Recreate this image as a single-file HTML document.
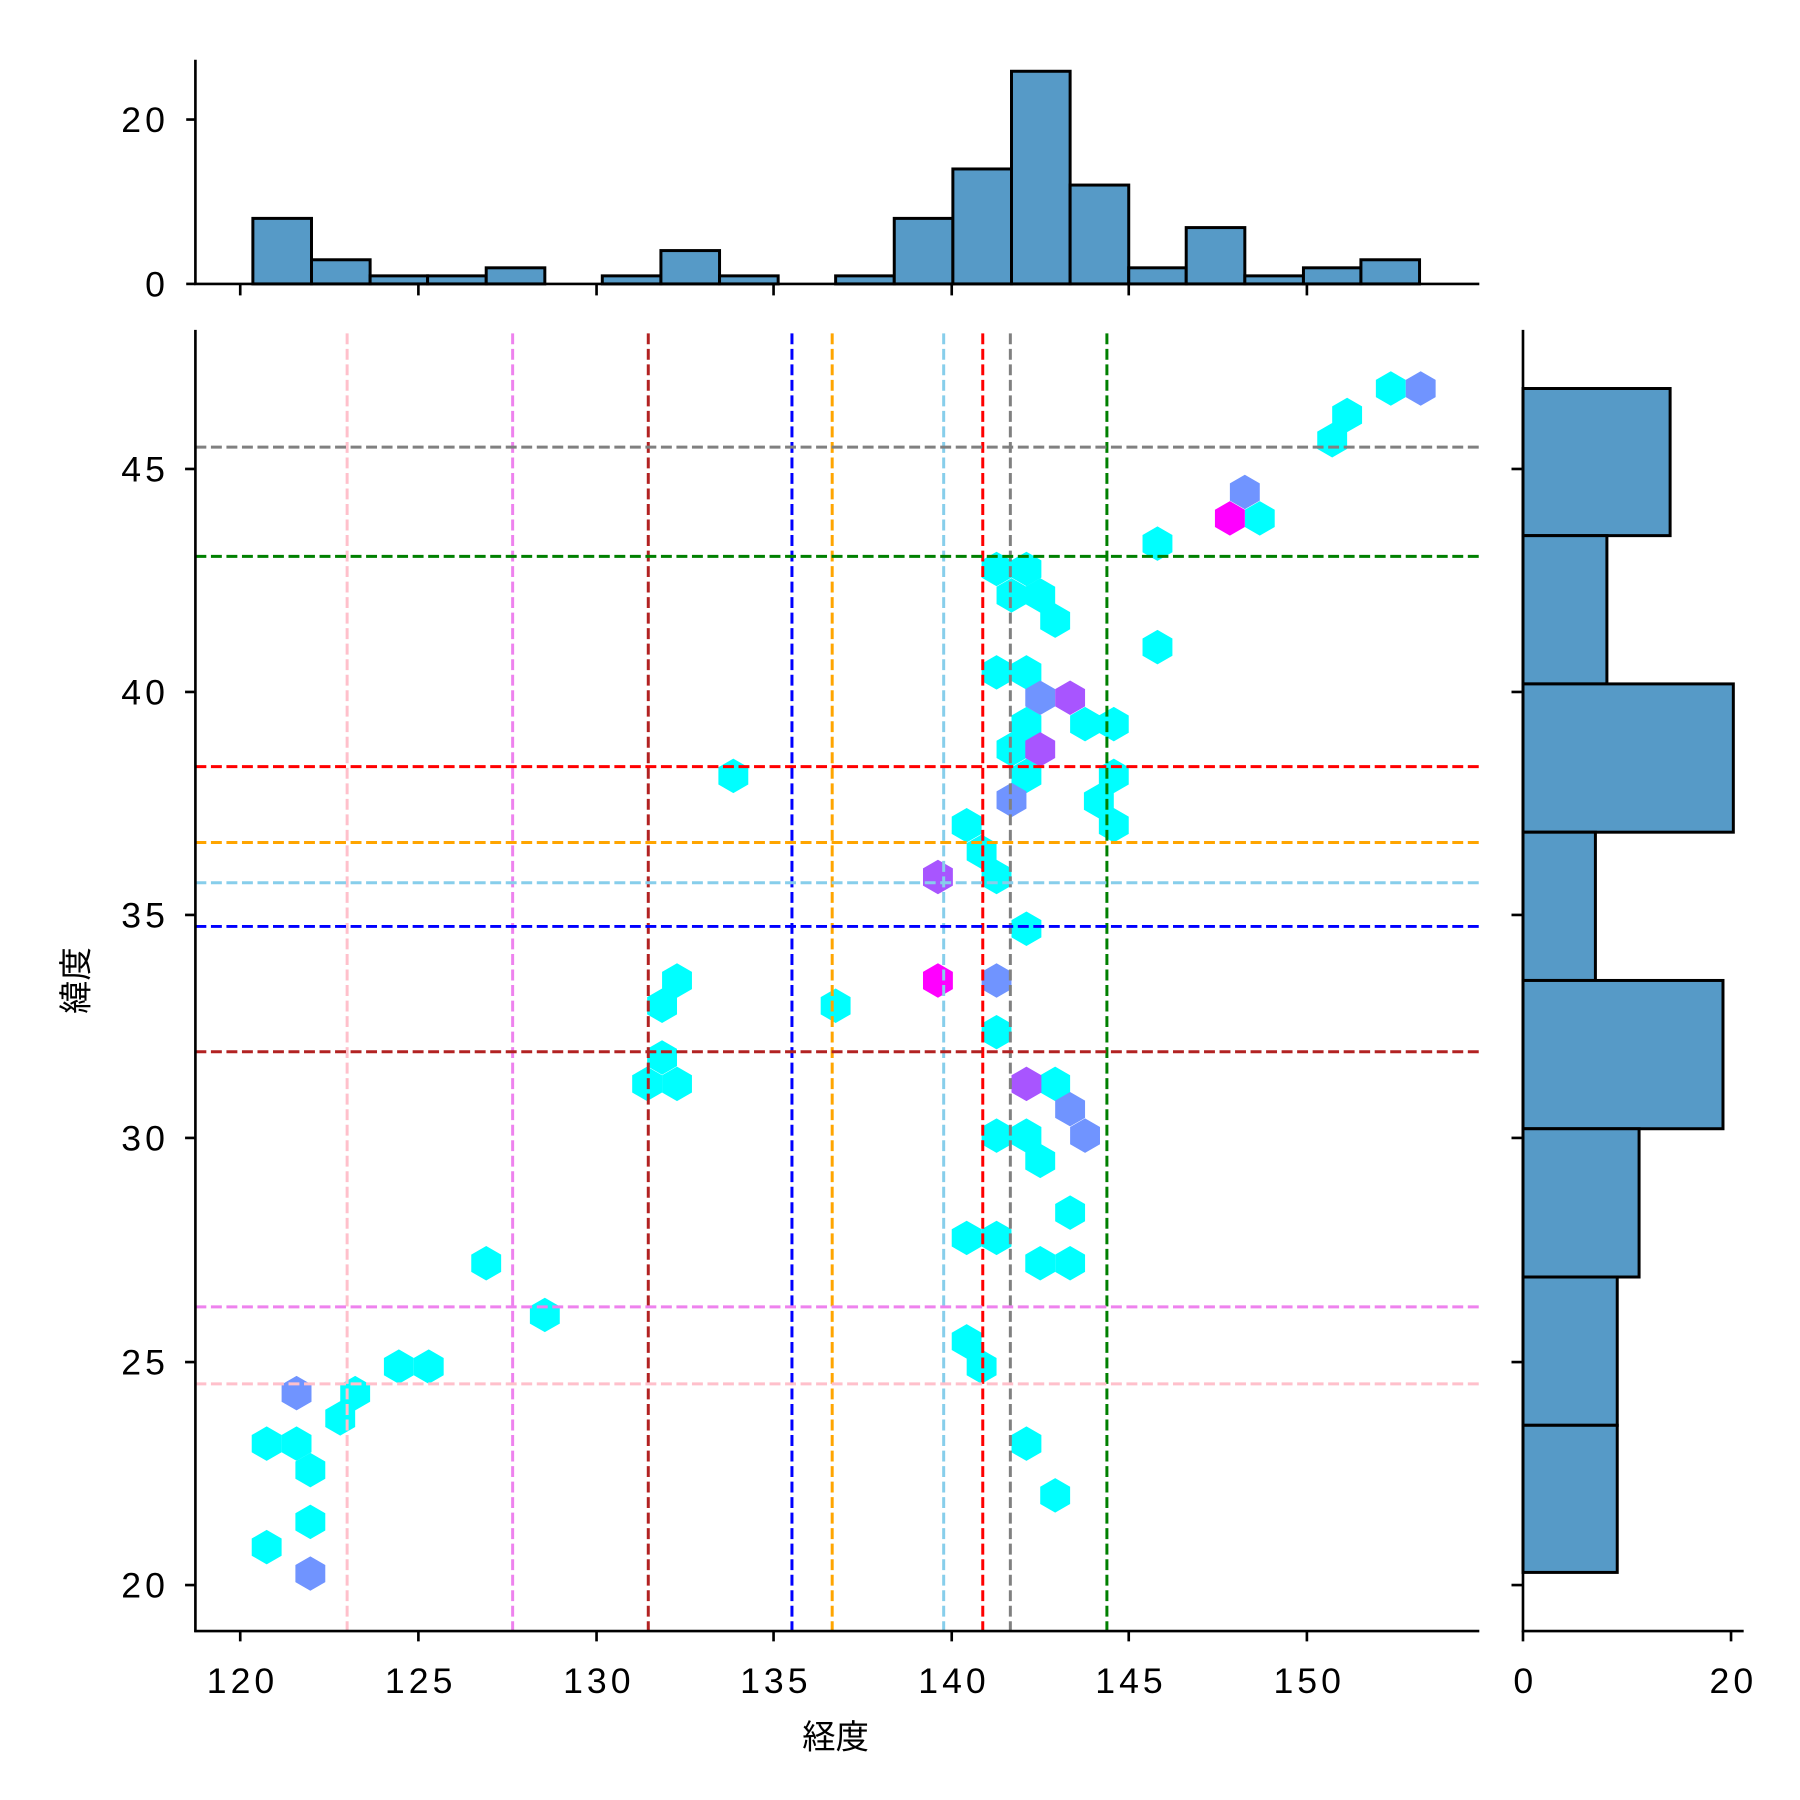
<!DOCTYPE html>
<html><head><meta charset="utf-8"><style>
html,body{margin:0;padding:0;background:#fff}
svg{display:block}
text{font-family:"Liberation Sans","Noto Sans CJK JP",sans-serif;fill:#000}
.n{letter-spacing:3.5px}
.j{font-family:"Noto Sans CJK JP",sans-serif}
</style></head><body>
<svg width="1800" height="1800" viewBox="0 0 1566 1566" xmlns="http://www.w3.org/2000/svg">
<defs><polygon id="h" points="0,-15 13,-7.5 13,7.5 0,15 -13,7.5 -13,-7.5"/></defs>
<rect width="1566" height="1566" fill="#fff"/>
<!-- top histogram -->
<g fill="#569ac7" stroke="#000" stroke-width="2.6">
<rect x="220" y="190" width="51" height="57"/>
<rect x="271" y="226" width="51" height="21"/>
<rect x="322" y="240" width="50" height="7"/>
<rect x="372" y="240" width="51" height="7"/>
<rect x="423" y="233" width="51" height="14"/>
<rect x="524" y="240" width="51" height="7"/>
<rect x="575" y="218" width="51" height="29"/>
<rect x="626" y="240" width="51" height="7"/>
<rect x="727" y="240" width="51" height="7"/>
<rect x="778" y="190" width="51" height="57"/>
<rect x="829" y="147" width="51" height="100"/>
<rect x="880" y="62" width="51" height="185"/>
<rect x="931" y="161" width="51" height="86"/>
<rect x="982" y="233" width="50" height="14"/>
<rect x="1032" y="198" width="51" height="49"/>
<rect x="1083" y="240" width="51" height="7"/>
<rect x="1134" y="233" width="50" height="14"/>
<rect x="1184" y="226" width="51" height="21"/>
</g>
<g stroke="#000" stroke-width="2.3" fill="none">
<line x1="170" y1="52" x2="170" y2="247"/>
<line x1="169" y1="247" x2="1287" y2="247"/>
<line x1="162" y1="104" x2="170" y2="104"/>
<line x1="162" y1="247" x2="170" y2="247"/>
<line x1="209" y1="247" x2="209" y2="257"/><line x1="364" y1="247" x2="364" y2="257"/><line x1="519" y1="247" x2="519" y2="257"/><line x1="673" y1="247" x2="673" y2="257"/><line x1="828" y1="247" x2="828" y2="257"/><line x1="982" y1="247" x2="982" y2="257"/><line x1="1137" y1="247" x2="1137" y2="257"/>
</g>
<g font-size="31" text-anchor="end" class="n">
<text x="147" y="115">20</text><text x="147" y="258">0</text>
</g>
<!-- right histogram -->
<g fill="#569ac7" stroke="#000" stroke-width="2.6">
<rect x="1325" y="338" width="128" height="128"/>
<rect x="1325" y="466" width="73" height="129"/>
<rect x="1325" y="595" width="183" height="129"/>
<rect x="1325" y="724" width="63" height="129"/>
<rect x="1325" y="853" width="174" height="129"/>
<rect x="1325" y="982" width="101" height="129"/>
<rect x="1325" y="1111" width="82" height="129"/>
<rect x="1325" y="1240" width="82" height="128"/>
</g>
<g stroke="#000" stroke-width="2.3" fill="none">
<line x1="1325" y1="287" x2="1325" y2="1420"/>
<line x1="1324" y1="1419" x2="1517" y2="1419"/>
<line x1="1325" y1="1419" x2="1325" y2="1428"/><line x1="1506" y1="1419" x2="1506" y2="1428"/>
<line x1="1315" y1="1379" x2="1325" y2="1379"/><line x1="1315" y1="1185" x2="1325" y2="1185"/><line x1="1315" y1="990" x2="1325" y2="990"/><line x1="1315" y1="796" x2="1325" y2="796"/><line x1="1315" y1="602" x2="1325" y2="602"/><line x1="1315" y1="408" x2="1325" y2="408"/>
</g>
<g font-size="31" text-anchor="middle" class="n">
<text x="1327" y="1473">0</text><text x="1508" y="1473">20</text>
</g>
<!-- hexbins -->
<g fill="#00ffff">
<use href="#h" x="232" y="1256"/><use href="#h" x="258" y="1256"/><use href="#h" x="270" y="1279"/><use href="#h" x="296" y="1234"/><use href="#h" x="309" y="1212"/><use href="#h" x="232" y="1346"/><use href="#h" x="270" y="1324"/><use href="#h" x="347" y="1189"/><use href="#h" x="373" y="1189"/><use href="#h" x="423" y="1099"/><use href="#h" x="474" y="1144"/>
<use href="#h" x="638" y="675"/><use href="#h" x="576" y="920"/><use href="#h" x="563" y="943"/><use href="#h" x="589" y="943"/><use href="#h" x="576" y="875"/><use href="#h" x="589" y="853"/><use href="#h" x="727" y="875"/>
<use href="#h" x="841" y="718"/><use href="#h" x="854" y="741"/><use href="#h" x="867" y="763"/><use href="#h" x="867" y="898"/><use href="#h" x="893" y="808"/><use href="#h" x="918" y="943"/><use href="#h" x="867" y="988"/><use href="#h" x="893" y="988"/><use href="#h" x="905" y="1010"/><use href="#h" x="931" y="1055"/><use href="#h" x="841" y="1077"/><use href="#h" x="867" y="1077"/><use href="#h" x="905" y="1099"/><use href="#h" x="931" y="1099"/><use href="#h" x="841" y="1167"/><use href="#h" x="854" y="1189"/><use href="#h" x="893" y="1256"/><use href="#h" x="918" y="1301"/>
<use href="#h" x="867" y="495"/><use href="#h" x="893" y="495"/><use href="#h" x="880" y="518"/><use href="#h" x="905" y="518"/><use href="#h" x="918" y="540"/><use href="#h" x="867" y="585"/><use href="#h" x="893" y="585"/><use href="#h" x="893" y="630"/><use href="#h" x="880" y="652"/><use href="#h" x="893" y="675"/><use href="#h" x="944" y="630"/><use href="#h" x="969" y="630"/><use href="#h" x="956" y="697"/><use href="#h" x="969" y="675"/><use href="#h" x="969" y="718"/><use href="#h" x="1007" y="473"/><use href="#h" x="1007" y="563"/><use href="#h" x="1096" y="451"/><use href="#h" x="1159" y="383"/><use href="#h" x="1172" y="361"/><use href="#h" x="1210" y="338"/>
</g>
<g fill="#7094ff">
<use href="#h" x="258" y="1212"/><use href="#h" x="270" y="1369"/><use href="#h" x="880" y="696"/><use href="#h" x="867" y="853"/><use href="#h" x="931" y="965"/><use href="#h" x="944" y="988"/><use href="#h" x="905" y="607"/><use href="#h" x="1083" y="428"/><use href="#h" x="1236" y="338"/>
</g>
<g fill="#a855ff">
<use href="#h" x="816" y="763"/><use href="#h" x="893" y="943"/><use href="#h" x="931" y="607"/><use href="#h" x="905" y="652"/>
</g>
<g fill="#ff00ff">
<use href="#h" x="816" y="853"/><use href="#h" x="1070" y="451"/>
</g>
<!-- reference lines -->
<g stroke-width="2.6" stroke-dasharray="9.5,4" fill="none">
<line x1="302" y1="290" x2="302" y2="1419" stroke="#ffc0cb"/>
<line x1="446" y1="290" x2="446" y2="1419" stroke="#ee82ee"/>
<line x1="564" y1="290" x2="564" y2="1419" stroke="#b22222"/>
<line x1="689" y1="290" x2="689" y2="1419" stroke="#0000ff"/>
<line x1="724" y1="290" x2="724" y2="1419" stroke="#ffa500"/>
<line x1="821" y1="290" x2="821" y2="1419" stroke="#87ceeb"/>
<line x1="855" y1="290" x2="855" y2="1419" stroke="#ff0000"/>
<line x1="879" y1="290" x2="879" y2="1419" stroke="#808080"/>
<line x1="963" y1="290" x2="963" y2="1419" stroke="#008000"/>
<line x1="170" y1="389" x2="1287" y2="389" stroke="#808080"/>
<line x1="170" y1="484" x2="1287" y2="484" stroke="#008000"/>
<line x1="170" y1="667" x2="1287" y2="667" stroke="#ff0000"/>
<line x1="170" y1="733" x2="1287" y2="733" stroke="#ffa500"/>
<line x1="170" y1="768" x2="1287" y2="768" stroke="#87ceeb"/>
<line x1="170" y1="806" x2="1287" y2="806" stroke="#0000ff"/>
<line x1="170" y1="915" x2="1287" y2="915" stroke="#b22222"/>
<line x1="170" y1="1137" x2="1287" y2="1137" stroke="#ee82ee"/>
<line x1="170" y1="1204" x2="1287" y2="1204" stroke="#ffc0cb"/>
</g>
<!-- main axes -->
<g stroke="#000" stroke-width="2.3" fill="none">
<line x1="170" y1="287" x2="170" y2="1420"/>
<line x1="169" y1="1419" x2="1287" y2="1419"/>
<line x1="209" y1="1419" x2="209" y2="1428"/><line x1="364" y1="1419" x2="364" y2="1428"/><line x1="519" y1="1419" x2="519" y2="1428"/><line x1="673" y1="1419" x2="673" y2="1428"/><line x1="828" y1="1419" x2="828" y2="1428"/><line x1="982" y1="1419" x2="982" y2="1428"/><line x1="1137" y1="1419" x2="1137" y2="1428"/>
<line x1="161" y1="1379" x2="170" y2="1379"/><line x1="161" y1="1185" x2="170" y2="1185"/><line x1="161" y1="990" x2="170" y2="990"/><line x1="161" y1="796" x2="170" y2="796"/><line x1="161" y1="602" x2="170" y2="602"/><line x1="161" y1="408" x2="170" y2="408"/>
</g>
<g font-size="31" text-anchor="middle" class="n">
<text x="211" y="1473">120</text><text x="366" y="1473">125</text><text x="521" y="1473">130</text><text x="675" y="1473">135</text><text x="830" y="1473">140</text><text x="984" y="1473">145</text><text x="1139" y="1473">150</text>
</g>
<g font-size="31" text-anchor="end" class="n">
<text x="147" y="1390">20</text><text x="147" y="1196">25</text><text x="147" y="1001">30</text><text x="147" y="807">35</text><text x="147" y="613">40</text><text x="147" y="419">45</text>
</g>
<text x="727" y="1521" font-size="29" text-anchor="middle" class="j">経度</text>
<text transform="translate(76,853) rotate(-90)" font-size="29" text-anchor="middle" class="j">緯度</text>
</svg>
</body></html>
